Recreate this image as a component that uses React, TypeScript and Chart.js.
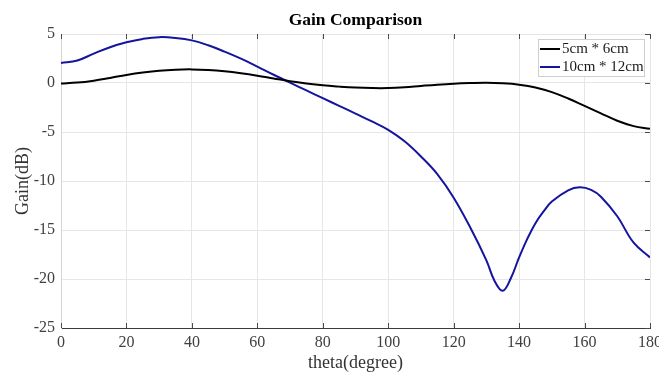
import React, { useEffect, useRef } from "react";
import { Chart, registerables } from "chart.js";

Chart.register(...registerables);

const TITLE = "Gain Comparison";
const X_TITLE = "theta(degree)";
const Y_TITLE = "Gain(dB)";
const SERIES_NAMES = ["5cm * 6cm", "10cm * 12cm"];
const SERIES_COLORS = ["#000000", "#14149f"];

const thetaSmall = [0, 5, 10, 15, 20, 25, 30, 35, 40, 45, 50, 55, 60, 65, 70, 75, 80, 85, 90, 95, 100, 105, 110, 115, 120, 125, 130, 135, 140, 145, 150, 155, 160, 165, 170, 175, 180];
const gainSmall = [-0.05, 0.04, 0.24, 0.52, 0.82, 1.07, 1.26, 1.36, 1.39, 1.33, 1.2, 1.0, 0.75, 0.46, 0.18, -0.05, -0.24, -0.37, -0.47, -0.52, -0.52, -0.44, -0.3, -0.17, -0.07, -0.01, 0.02, -0.03, -0.17, -0.45, -0.93, -1.58, -2.33, -3.1, -3.85, -4.4, -4.68];

const thetaLarge = [0, 5, 10, 15, 20, 25, 30, 35, 40, 45, 50, 55, 60, 65, 70, 75, 80, 85, 90, 95, 100, 105, 110, 115, 120, 125, 130, 132.5, 135, 137.5, 140, 142.5, 145, 147.5, 150, 155, 158.5, 162, 165, 170, 175, 180];
const gainLarge = [2.05, 2.3, 3.0, 3.65, 4.15, 4.5, 4.68, 4.6, 4.35, 3.85, 3.2, 2.48, 1.68, 0.84, 0.03, -0.76, -1.55, -2.33, -3.12, -3.92, -4.78, -5.95, -7.5, -9.3, -11.7, -14.7, -18.1, -20.2, -21.2, -19.9, -17.8, -15.9, -14.3, -13.1, -12.1, -10.95, -10.65, -10.9, -11.6, -13.6, -16.3, -17.8];

const xTicks = [0, 20, 40, 60, 80, 100, 120, 140, 160, 180];
const yTicks = [-25, -20, -15, -10, -5, 0, 5];

const CANVAS_W = 680;
const CANVAS_H = 374;
const FONT = "'Liberation Serif', 'Times New Roman', serif";

const tickMarks = {
  id: "tickMarks",
  afterDraw(chart: any) {
    const { ctx, chartArea, scales } = chart;
    const { top, bottom, right } = chartArea;
    ctx.save();
    ctx.strokeStyle = "#4a4a4a";
    ctx.lineWidth = 1;
    ctx.beginPath();
    for (const v of xTicks) {
      const px = Math.round(scales.x.getPixelForValue(v)) + 0.5;
      ctx.moveTo(px, top);
      ctx.lineTo(px, top + 5);
      ctx.moveTo(px, bottom);
      ctx.lineTo(px, bottom - 5);
    }
    for (const v of yTicks) {
      const py = Math.round(scales.y.getPixelForValue(v)) + 0.5;
      ctx.moveTo(right, py);
      ctx.lineTo(right - 5, py);
    }
    ctx.stroke();
    ctx.restore();
  },
};

const boxLegend = {
  id: "boxLegend",
  afterDraw(chart: any) {
    const { ctx, chartArea } = chart;
    const bx = chartArea.right - 112;
    const by = chartArea.top + 5;
    const bw = 106;
    const bh = 37;
    ctx.save();
    ctx.fillStyle = "#ffffff";
    ctx.fillRect(bx, by, bw, bh);
    ctx.strokeStyle = "#cfcfcf";
    ctx.lineWidth = 1;
    ctx.strokeRect(bx + 0.5, by + 0.5, bw, bh);
    ctx.font = `15px ${FONT}`;
    ctx.textBaseline = "middle";
    ctx.textAlign = "left";
    chart.data.datasets.forEach((ds: any, i: number) => {
      const y = by + 10 + i * 18;
      ctx.strokeStyle = ds.borderColor;
      ctx.lineWidth = 2;
      ctx.beginPath();
      ctx.moveTo(bx + 2, y);
      ctx.lineTo(bx + 22, y);
      ctx.stroke();
      ctx.fillStyle = "#1a1a1a";
      ctx.fillText(ds.label, bx + 24, y);
    });
    ctx.restore();
  },
};

export default function App() {
  const ref = useRef<HTMLCanvasElement | null>(null);

  useEffect(() => {
    if (!ref.current) return;
    const chart = new Chart(ref.current, {
      type: "line",
      data: {
        datasets: [
          {
            label: SERIES_NAMES[0],
            data: thetaSmall.map((t, i) => ({ x: t, y: gainSmall[i] })),
            borderColor: SERIES_COLORS[0],
            borderWidth: 2,
            pointRadius: 0,
            tension: 0.4,
            fill: false,
          },
          {
            label: SERIES_NAMES[1],
            data: thetaLarge.map((t, i) => ({ x: t, y: gainLarge[i] })),
            borderColor: SERIES_COLORS[1],
            borderWidth: 2,
            pointRadius: 0,
            tension: 0.4,
            fill: false,
          },
        ],
      },
      options: {
        responsive: false,
        animation: false,
        layout: { padding: { left: 0, right: CANVAS_W - 650, top: 0, bottom: 0 } },
        plugins: {
          legend: { display: false },
          tooltip: { enabled: false },
          title: {
            display: true,
            text: TITLE,
            fullSize: false,
            color: "#000000",
            font: { family: FONT, size: 17.5, weight: "bold" },
            padding: { top: 9.5, bottom: 3.5 },
          },
        },
        scales: {
          x: {
            type: "linear",
            min: 0,
            max: 180,
            afterBuildTicks: (s: any) => {
              s.ticks = xTicks.map((v) => ({ value: v }));
            },
            afterFit: (s: any) => {
              s.height = CANVAS_H - 328;
            },
            grid: { color: "#e6e6e6", lineWidth: 1, drawTicks: false },
            border: { display: true, color: "#3a3a3a", width: 1 },
            ticks: {
              color: "#404040",
              font: { family: FONT, size: 16 },
              padding: 5,
              maxRotation: 0,
              autoSkip: false,
            },
            title: {
              display: true,
              text: X_TITLE,
              color: "#333333",
              font: { family: FONT, size: 18 },
              padding: { top: 0, bottom: 0 },
            },
          },
          y: {
            type: "linear",
            min: -25,
            max: 5,
            afterBuildTicks: (s: any) => {
              s.ticks = yTicks.map((v) => ({ value: v }));
            },
            afterFit: (s: any) => {
              s.width = 61;
            },
            grid: { color: "#e6e6e6", lineWidth: 1, drawTicks: false },
            border: { display: true, color: "#d4d4d4", width: 1 },
            ticks: {
              color: "#404040",
              font: { family: FONT, size: 16 },
              padding: 6,
              autoSkip: false,
            },
            title: {
              display: true,
              text: Y_TITLE,
              color: "#333333",
              font: { family: FONT, size: 18 },
              padding: { top: 12, bottom: 0 },
            },
          },
        },
      },
      plugins: [tickMarks, boxLegend],
    });
    return () => chart.destroy();
  }, []);

  return (
    <div
      style={{
        position: "fixed",
        left: 0,
        top: 0,
        width: 659,
        height: 374,
        overflow: "hidden",
        background: "#ffffff",
      }}
    >
      <canvas ref={ref} width={CANVAS_W} height={CANVAS_H} style={{ display: "block" }} />
    </div>
  );
}
